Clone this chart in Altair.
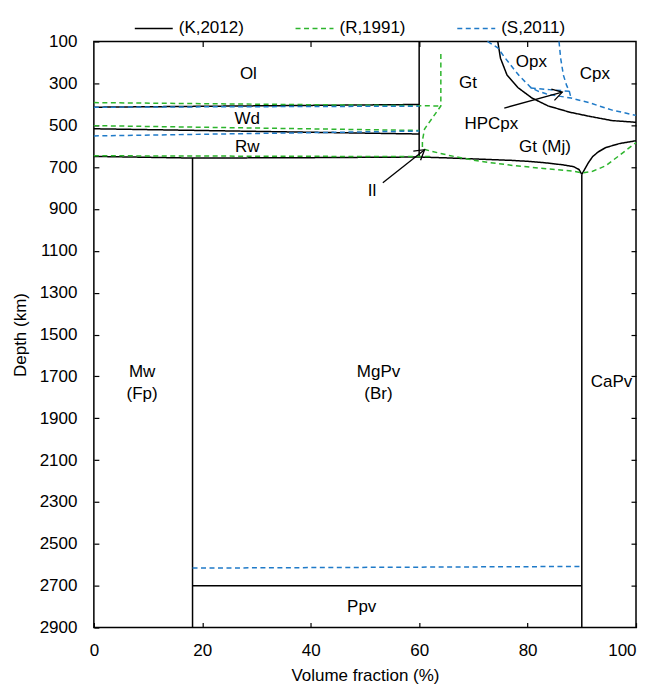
import math
import altair as alt
import pandas as pd

# ---------------- data ----------------
SOURCES = ["(K,2012)", "(R,1991)", "(S,2011)"]
COLORS = ["#000000", "#2db52d", "#1f7ac8"]
DASHES = [[1, 0], [5, 3.5], [5, 3.5]]

X_TICKS = [0, 20, 40, 60, 80, 100]
Y_TICKS = [100, 300, 500, 700, 900, 1100, 1300, 1500, 1700, 1900, 2100, 2300, 2500, 2700, 2900]
X_INNER_TICKS = [20, 40, 60, 80]
Y_INNER_TICKS = [300, 500, 700, 900, 1100, 1300, 1500, 1700, 1900, 2100, 2300, 2500, 2700]

# (K,2012) black solid
K_OLWD_X = [0, 60];   K_OLWD_D = [414, 401]
K_WDRW_X = [0, 60];   K_WDRW_D = [517, 542]
K_660_X = [0, 18.2, 40, 60, 65, 71, 77, 80.3, 83.4, 86.4, 88.5, 89.5, 90]
K_660_D = [649, 657, 655, 652, 656, 662, 668, 673, 680, 689, 698, 712, 735]
K_OLGT_X = [60, 60];  K_OLGT_D = [100, 652]
K_MW_X = [18.2, 18.2]; K_MW_D = [657, 2900]
K_CAPV_X = [90, 90];  K_CAPV_D = [735, 2900]
K_CAPV_UP_X = [90, 90.5, 91.2, 92, 93, 94.4, 96.9, 100]
K_CAPV_UP_D = [735, 712, 680, 650, 628, 607, 588, 574]
K_PPV_X = [18.2, 90]; K_PPV_D = [2700, 2700]
K_OPX_X = [74.5, 75, 76.2, 78.2, 80.8, 83.8, 87.8, 91.5, 95.6, 100]
K_OPX_D = [100, 180, 260, 320, 370, 408, 438, 458, 478, 486]

# (R,1991) green dashed
R_OLWD_X = [0, 64];   R_OLWD_D = [392, 408]
R_GT_X = [64, 64, 61, 60.6, 60.6, 61.9, 65.6, 71.1, 77.2, 83.4, 88.3, 90.1, 92, 94.4, 96.9, 100]
R_GT_D = [160, 408, 518, 574, 612, 622, 645, 672, 692, 708, 719, 728, 720, 694, 645, 583]
R_WDRW_X = [0, 60];   R_WDRW_D = [502, 525]
R_660_X = [0, 60, 62]; R_660_D = [646, 650, 650]

# (S,2011) blue dashed
S_OLWD_X = [0, 60];   S_OLWD_D = [414, 409]
S_WDRW_X = [0, 60];   S_WDRW_D = [551, 528]
S_GT_X = [72.6, 74.5, 75.6, 76.8, 78.5, 80.6, 82, 83.4, 85.5, 88, 91.3, 95.6, 100]
S_GT_D = [100, 130, 170, 210, 265, 320, 338, 350, 360, 370, 392, 428, 453]
S_HP_X = [80.6, 84, 87.7]; S_HP_D = [322, 330, 338]
S_CPX_X = [85.8, 86.1, 86.6, 87.2, 87.7, 88]
S_CPX_D = [100, 180, 260, 310, 338, 370]
S_PPV_X = [18.2, 90]; S_PPV_D = [2616, 2608]

LINES = [
    ("(K,2012)", K_OLWD_X, K_OLWD_D), ("(K,2012)", K_WDRW_X, K_WDRW_D),
    ("(K,2012)", K_660_X, K_660_D), ("(K,2012)", K_OLGT_X, K_OLGT_D),
    ("(K,2012)", K_MW_X, K_MW_D), ("(K,2012)", K_CAPV_X, K_CAPV_D),
    ("(K,2012)", K_CAPV_UP_X, K_CAPV_UP_D), ("(K,2012)", K_PPV_X, K_PPV_D),
    ("(K,2012)", K_OPX_X, K_OPX_D),
    ("(R,1991)", R_OLWD_X, R_OLWD_D), ("(R,1991)", R_GT_X, R_GT_D),
    ("(R,1991)", R_WDRW_X, R_WDRW_D), ("(R,1991)", R_660_X, R_660_D),
    ("(S,2011)", S_OLWD_X, S_OLWD_D), ("(S,2011)", S_WDRW_X, S_WDRW_D),
    ("(S,2011)", S_GT_X, S_GT_D), ("(S,2011)", S_HP_X, S_HP_D),
    ("(S,2011)", S_CPX_X, S_CPX_D), ("(S,2011)", S_PPV_X, S_PPV_D),
]

LABEL_TEXT = ["Ol", "Wd", "Rw", "Il", "Gt", "Opx", "Cpx", "HPCpx", "Gt (Mj)",
              "Mw", "(Fp)", "MgPv", "(Br)", "CaPv", "Ppv"]
LABEL_X = [28.5, 28.3, 28.3, 51.3, 69.0, 80.7, 92.4, 73.3, 83.2,
           8.9, 8.9, 52.5, 52.5, 95.5, 49.4]
LABEL_D = [255, 469, 606, 815, 300, 200, 257, 493, 604,
           1681, 1784, 1681, 1784, 1729, 2800]

# arrows: tail (x, depth) -> tip (x, depth)
ARROW_NAME = ["Il", "HPCpx"]
ARROW_X1 = [53.3, 75.7]; ARROW_D1 = [775, 418]
ARROW_X2 = [61.0, 86.4]; ARROW_D2 = [617, 342]

# ---------------- layout ----------------
W, H = 543, 587
FONT = "Liberation Sans"
FS = 17

rows = []
for i, (src, xs, ds) in enumerate(LINES):
    for j, (x, d) in enumerate(zip(xs, ds)):
        rows.append({"seg": i, "src": src, "x": x, "d": d, "ord": j})
df_lines = pd.DataFrame(rows)

df_labels = pd.DataFrame({"t": LABEL_TEXT, "x": LABEL_X, "d": LABEL_D})

arow = []
heads = []
px_per_x = W / 100.0
px_per_d = H / 2800.0
for k, name in enumerate(ARROW_NAME):
    arow.append({"a": name, "x": ARROW_X1[k], "d": ARROW_D1[k], "ord": 0})
    arow.append({"a": name, "x": ARROW_X2[k], "d": ARROW_D2[k], "ord": 1})
    dx = (ARROW_X2[k] - ARROW_X1[k]) * px_per_x
    dy = (ARROW_D2[k] - ARROW_D1[k]) * px_per_d
    ang = math.degrees(math.atan2(dy, dx)) % 360
    heads.append({"a": name, "x": ARROW_X2[k], "d": ARROW_D2[k], "ang": ang})
df_arrows = pd.DataFrame(arow)
df_heads = pd.DataFrame(heads)

xs = alt.Scale(domain=[0, 100], nice=False, zero=False)
ys = alt.Scale(domain=[100, 2900], reverse=True, nice=False, zero=False)

common_axis = dict(offset=-5, tickSize=5, domain=False, grid=False,
                   tickColor="black", tickWidth=1.2, labelColor="black",
                   titleColor="black", labelFont=FONT, titleFont=FONT,
                   labelFontSize=FS, titleFontSize=FS, titleFontWeight="normal",
                   format="d")

x_bottom = alt.Axis(orient="bottom", values=X_TICKS, labelPadding=15,
                    title="Volume fraction (%)", titlePadding=9,
                    labelFlush=False,
                    labelAlign={"condition": {"test": "datum.value == 100", "value": "right"},
                                "value": "center"},
                    **common_axis)
y_left = alt.Axis(orient="left", values=Y_TICKS, labelPadding=17,
                  title="Depth (km)", titlePadding=10, **common_axis)
x_top = alt.Axis(orient="top", values=X_INNER_TICKS, labels=False,
                 title=None, **common_axis)
y_right = alt.Axis(orient="right", values=Y_INNER_TICKS, labels=False,
                   title=None, **common_axis)

lines = alt.Chart(df_lines).mark_line(strokeWidth=1.5).encode(
    x=alt.X("x:Q", scale=xs, axis=x_bottom),
    y=alt.Y("d:Q", scale=ys, axis=y_left),
    detail="seg:N",
    order="ord:Q",
    color=alt.Color("src:N", scale=alt.Scale(domain=SOURCES, range=COLORS),
                    legend=alt.Legend(title=None)),
    strokeDash=alt.StrokeDash("src:N", scale=alt.Scale(domain=SOURCES, range=DASHES),
                              legend=alt.Legend(title=None)),
)

arrow_lines = alt.Chart(df_arrows).mark_line(color="black", strokeWidth=1.3).encode(
    x=alt.X("x:Q", scale=xs, axis=None),
    y=alt.Y("d:Q", scale=ys, axis=None),
    detail="a:N",
    order="ord:Q",
)

arrow_heads = alt.Chart(df_heads).mark_point(
    shape="M -1 -0.6 L 0 0 L -1 0.6", filled=False, color="black",
    strokeWidth=1.3, size=380, opacity=1
).encode(
    x=alt.X("x:Q", scale=xs, axis=None),
    y=alt.Y("d:Q", scale=ys, axis=None),
    angle=alt.Angle("ang:Q", scale=None),
)

texts = alt.Chart(df_labels).mark_text(font=FONT, fontSize=FS, color="black").encode(
    x=alt.X("x:Q", scale=xs, axis=x_top),
    y=alt.Y("d:Q", scale=ys, axis=y_right),
    text="t:N",
)

chart = alt.layer(lines, arrow_lines, arrow_heads, texts).resolve_axis(
    x="independent", y="independent"
).properties(
    width=W, height=H,
    autosize=alt.AutoSizeParams(type="none"),
    padding={"left": 86, "top": 33, "right": 6, "bottom": 58},
).configure_view(
    stroke="black", strokeWidth=1.5
).configure_legend(
    orient="none", legendX=40, legendY=-33, direction="horizontal",
    symbolType="stroke", symbolSize=1444, symbolStrokeWidth=1.5,
    labelFont=FONT, labelFontSize=FS, labelColor="black",
    columnPadding=48, padding=0, labelOffset=5,
)

chart.save("out.html", embed_options={"renderer": "svg", "actions": False})
